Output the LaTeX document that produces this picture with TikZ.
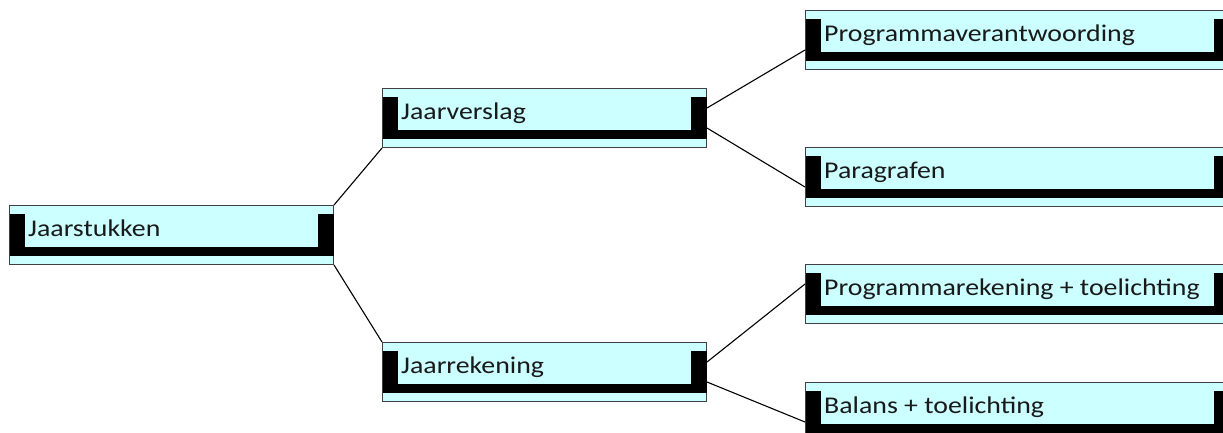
\documentclass[tikz,border=0pt]{standalone}
\usepackage{fontspec}
\setmainfont{Carlito}
\usetikzlibrary{calc}
\definecolor{lcyan}{HTML}{CCFFFF}
\definecolor{bord}{HTML}{404040}
\newcommand\drawjbox[5]{% name, L, T, width, text
  \node[outerbox, minimum width=#4pt] (#1) at (#2,#3) {};
  \fill[black] ($(#1.north west)+(0.5,9)$) rectangle ($(#1.north east)+(-0.5,51)$);
  \fill[lcyan] ($(#1.north west)+(16,9)$) rectangle ($(#1.north east)+(-16,42)$);
  \node[lbl] (#1-t) at ($(#1.north west)+(19,31)$) {\scalebox{1.16}[1]{#5}};
}
\begin{document}
\begin{tikzpicture}[x=1pt,y=-1pt,
  outerbox/.style={draw=bord, line width=1pt, fill=lcyan, rectangle, inner sep=0pt, anchor=north west, minimum height=59pt},
  lbl/.style={anchor=base west, inner sep=0pt, text=black!90, font=\fontsize{24}{24}\selectfont},
  conn/.style={draw=black, line width=1.1pt}]
\useasboundingbox (0,0) rectangle (1223,432);
\clip (0,0) rectangle (1223,432);
\drawjbox{js}{9}{205}{324}{Jaarstukken}
\drawjbox{jv}{382}{88}{324}{Jaarverslag}
\drawjbox{jr}{382}{342}{324}{Jaarrekening}
\drawjbox{pv}{805}{10}{424}{Programmaverantwoording}
\drawjbox{pg}{805}{147}{424}{Paragrafen}
\drawjbox{pr}{805}{264}{424}{Programmarekening + toelichting}
\drawjbox{bt}{805}{382}{424}{Balans + toelichting}
\draw[conn] (js.north east) -- (jv.south west);
\draw[conn] (js.south east) -- (jr.north west);
\draw[conn] ($(jv.north east)!1/3!(jv.south east)$) -- ($(pv.north west)!2/3!(pv.south west)$);
\draw[conn] ($(jv.north east)!2/3!(jv.south east)$) -- ($(pg.north west)!2/3!(pg.south west)$);
\draw[conn] ($(jr.north east)!1/3!(jr.south east)$) -- ($(pr.north west)!1/3!(pr.south west)$);
\draw[conn] ($(jr.north east)!2/3!(jr.south east)$) -- ($(bt.north west)!2/3!(bt.south west)$);
\end{tikzpicture}
\end{document}
